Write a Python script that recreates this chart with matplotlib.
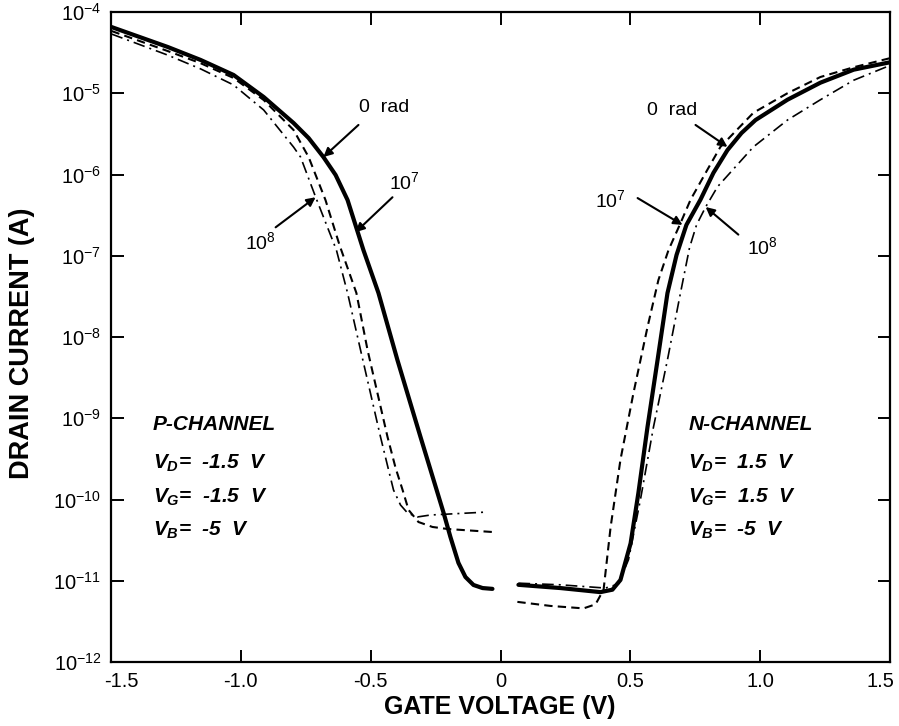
import numpy as np
import matplotlib
matplotlib.use("Agg")
import matplotlib.pyplot as plt
from matplotlib import font_manager
import matplotlib.transforms as mtrans

# ---------------- data (gate voltage in V, log10 of drain current in A) ----------------
# P-channel: 0 rad (solid), 1e7 rad (dashed), 1e8 rad (dash-dot)
p0_v   = [-1.498, -1.282, -1.155, -1.028, -0.912, -0.797, -0.739, -0.682, -0.635, -0.589, -0.528, -0.47, -0.397,
          -0.308, -0.219, -0.193, -0.162, -0.135, -0.104, -0.069, -0.031]
p0_log = [-4.185, -4.43, -4.59, -4.775, -5.046, -5.366, -5.551, -5.785, -6.006, -6.314, -6.929, -7.458, -8.283,
          -9.231, -10.166, -10.46, -10.78, -10.954, -11.052, -11.09, -11.10]

p7_v   = [-1.498, -1.282, -1.155, -1.028, -0.912, -0.797, -0.739, -0.674, -0.62, -0.555, -0.512, -0.435, -0.404,
          -0.377, -0.354, -0.316, -0.262, -0.204, -0.031]
p7_log = [-4.234, -4.48, -4.63, -4.812, -5.083, -5.452, -5.785, -6.314, -6.868, -7.458, -8.16, -9.231, -9.612,
          -9.883, -10.129, -10.277, -10.338, -10.363, -10.40]

p8_v   = [-1.498, -1.282, -1.155, -1.028, -0.912, -0.797, -0.77, -0.712, -0.632, -0.589, -0.539, -0.462, -0.431,
          -0.412, -0.385, -0.358, -0.32, -0.27, -0.05]
p8_log = [-4.271, -4.53, -4.70, -4.898, -5.206, -5.662, -5.785, -6.277, -6.929, -7.458, -8.16, -9.231, -9.637,
          -9.883, -10.068, -10.166, -10.215, -10.191, -10.154]

# N-channel
n0_v   = [0.069, 0.231, 0.385, 0.431, 0.462, 0.501, 0.531, 0.566, 0.605, 0.643, 0.678, 0.716, 0.77,
          0.82, 0.874, 0.928, 0.982, 1.105, 1.232, 1.36, 1.498]
n0_log = [-11.05, -11.09, -11.14, -11.11, -10.99, -10.54, -9.92, -9.11, -8.28, -7.46, -6.99, -6.62, -6.31,
          -5.98, -5.70, -5.49, -5.33, -5.08, -4.87, -4.71, -4.62]

n7_v   = [0.065, 0.193, 0.32, 0.366, 0.397, 0.424, 0.462, 0.512, 0.566, 0.608, 0.647, 0.693, 0.732, 0.797,
          0.847, 0.974, 1.105, 1.232, 1.36, 1.498]
n7_log = [-11.26, -11.31, -11.34, -11.29, -11.11, -10.34, -9.51, -8.69, -7.88, -7.30, -6.93, -6.60, -6.31,
          -5.94, -5.66, -5.24, -5.00, -4.80, -4.68, -4.57]

n8_v   = [0.069, 0.231, 0.404, 0.454, 0.493, 0.539, 0.589, 0.643, 0.693, 0.728, 0.755, 0.79, 0.836, 0.974,
          1.105, 1.232, 1.36, 1.498]
n8_log = [-11.03, -11.05, -11.09, -11.04, -10.74, -10.0, -9.11, -8.28, -7.46, -6.90, -6.62, -6.40, -6.15, -5.66,
          -5.33, -5.08, -4.84, -4.66]

x_ticks = [-1.5, -1.0, -0.5, 0.0, 0.5, 1.0, 1.5]
x_ticklabels = ["-1.5", "-1.0", "-0.5", "0", "0.5", "1.0", "1.5"]
y_exps = [-4, -5, -6, -7, -8, -9, -10, -11, -12]

# ---------------- fonts ----------------
avail = {f.name for f in font_manager.fontManager.ttflist}
main_font = "Liberation Sans" if "Liberation Sans" in avail else "DejaVu Sans"
plt.rcParams["font.family"] = [main_font, "DejaVu Sans"]
plt.rcParams["mathtext.fontset"] = "custom"
plt.rcParams["mathtext.rm"] = main_font
plt.rcParams["mathtext.it"] = main_font + ":italic:bold"
plt.rcParams["mathtext.bf"] = main_font + ":bold"
plt.rcParams["axes.unicode_minus"] = False

W, H = 899, 726
fig = plt.figure(figsize=(W / 100, H / 100), dpi=100)
ax = fig.add_axes([111 / W, 64 / H, 779 / W, 650 / H])

def cur(a):
    return 10.0 ** np.asarray(a)

solid_kw = dict(color="black", lw=3.0, solid_capstyle="round", solid_joinstyle="round")
dash_kw = dict(color="black", lw=1.5, linestyle=(0, (4, 2.5)))
dd_kw = dict(color="black", lw=1.2, linestyle=(0, (7, 3, 1.2, 3)))

ax.plot(p0_v, cur(p0_log), **solid_kw)
ax.plot(p7_v, cur(p7_log), **dash_kw)
ax.plot(p8_v, cur(p8_log), **dd_kw)
ax.plot(n0_v, cur(n0_log), **solid_kw)
ax.plot(n7_v, cur(n7_log), **dash_kw)
ax.plot(n8_v, cur(n8_log), **dd_kw)

ax.set_yscale("log")
ax.set_xlim(-1.5, 1.5)
ax.set_ylim(1e-12, 1e-4)
ax.set_xticks(x_ticks)
ax.set_xticklabels(x_ticklabels)
ax.set_yticks([10.0 ** e for e in y_exps])
ax.set_yticklabels([r"$\mathregular{10^{%d}}$" % e for e in y_exps])
ax.yaxis.set_minor_locator(matplotlib.ticker.NullLocator())
ax.tick_params(axis="both", which="major", direction="in", length=9, width=1.4,
               top=True, right=True, labelsize=14.5, pad=7)
for s in ax.spines.values():
    s.set_linewidth(1.6)

# shift end x tick labels inward
labs = ax.get_xticklabels()
labs[0].set_transform(labs[0].get_transform() + mtrans.ScaledTranslation(10 / 100, 0, fig.dpi_scale_trans))
labs[-1].set_transform(labs[-1].get_transform() + mtrans.ScaledTranslation(-10 / 100, 0, fig.dpi_scale_trans))

fig.text(500 / W, 1 - 707 / H, "GATE VOLTAGE (V)", ha="center", va="center",
         fontsize=18, fontweight="bold")
fig.text(22 / W, 1 - 343 / H, "DRAIN CURRENT (A)", ha="center", va="center",
         rotation=90, fontsize=19.5, fontweight="bold")

# ---------------- annotations ----------------
arrow_kw = dict(arrowstyle="-|>", color="black", lw=1.5, mutation_scale=13,
                shrinkA=0, shrinkB=0)

def arrow(x0, l0, x1, l1):
    ax.annotate("", xy=(x1, 10 ** l1), xytext=(x0, 10 ** l0), arrowprops=arrow_kw)

tsize = 14
ax.text(-0.45, 10 ** -5.18, "0  rad", fontsize=tsize, ha="center", va="center")
arrow(-0.547, -5.39, -0.682, -5.785)
ax.text(-0.37, 10 ** -6.10, r"$\mathregular{10^7}$", fontsize=tsize, ha="center", va="center")
arrow(-0.416, -6.28, -0.558, -6.71)
ax.text(-0.924, 10 ** -6.83, r"$\mathregular{10^8}$", fontsize=tsize, ha="center", va="center")
arrow(-0.866, -6.65, -0.712, -6.28)

ax.text(0.662, 10 ** -5.21, "0  rad", fontsize=tsize, ha="center", va="center")
arrow(0.751, -5.39, 0.874, -5.66)
ax.text(0.424, 10 ** -6.31, r"$\mathregular{10^7}$", fontsize=tsize, ha="center", va="center")
arrow(0.528, -6.29, 0.701, -6.62)
ax.text(1.009, 10 ** -6.89, r"$\mathregular{10^8}$", fontsize=tsize, ha="center", va="center")
arrow(0.916, -6.74, 0.79, -6.40)

# ---------------- condition blocks ----------------
def block(x, title, lines):
    ax.text(x, 10 ** -9.08, title, fontsize=15, fontstyle="italic", fontweight="bold",
            ha="left", va="center")
    for l, s in zip([-9.55, -9.97, -10.38], lines):
        ax.text(x, 10 ** l, s, fontsize=15, fontstyle="italic", fontweight="bold",
                ha="left", va="center")

block(-1.34, "P-CHANNEL", [r"$V_D$=  -1.5  V", r"$V_G$=  -1.5  V", r"$V_B$=  -5  V"])
block(0.724, "N-CHANNEL", [r"$V_D$=  1.5  V", r"$V_G$=  1.5  V", r"$V_B$=  -5  V"])

fig.savefig("out.png", dpi=100)
